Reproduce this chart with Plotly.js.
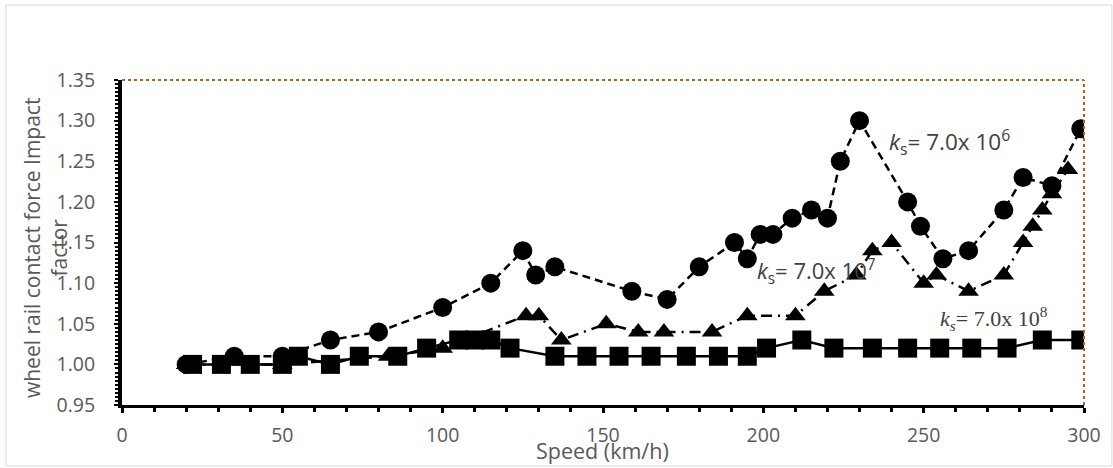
<!DOCTYPE html>
<html>
<head>
<meta charset="utf-8">
<script src="https://cdn.plot.ly/plotly-3.0.1.min.js"></script>
<style>
html,body{margin:0;padding:0;background:#fff;}
#chart{width:1113px;height:468px;}
</style>
</head>
<body>
<div id="chart"></div>
<script>
// ks = 7.0x10^6 (circles, dashed)
const speed6 = [20, 35, 50, 65, 80, 100, 115, 125, 129, 135, 159, 170, 180, 191, 195, 199, 203, 209, 215, 220, 224, 230, 245, 249, 256, 264, 275, 281, 290, 299];
const impact6 = [1.00, 1.01, 1.01, 1.03, 1.04, 1.07, 1.10, 1.14, 1.11, 1.12, 1.09, 1.08, 1.12, 1.15, 1.13, 1.16, 1.16, 1.18, 1.19, 1.18, 1.25, 1.30, 1.20, 1.17, 1.13, 1.14, 1.19, 1.23, 1.22, 1.29];

// ks = 7.0x10^7 (triangles, dash-dot)
const speed7 = [20, 50, 83, 100, 126, 130, 137, 151, 161, 169, 184, 195, 210, 219, 229, 234, 240, 250, 254, 264, 275, 281, 284, 287, 290, 295];
const impact7 = [1.00, 1.00, 1.01, 1.02, 1.06, 1.06, 1.03, 1.05, 1.04, 1.04, 1.04, 1.06, 1.06, 1.09, 1.11, 1.14, 1.15, 1.10, 1.11, 1.09, 1.11, 1.15, 1.17, 1.19, 1.21, 1.24];

// ks = 7.0x10^8 (squares, solid)
const speed8 = [22, 31, 40, 50, 55, 65, 74, 86, 95, 105, 110, 115, 121, 135, 145, 155, 165, 176, 186, 195, 201, 212, 222, 234, 245, 255, 265, 276, 287, 299];
const impact8 = [1.00, 1.00, 1.00, 1.00, 1.01, 1.00, 1.01, 1.01, 1.02, 1.03, 1.03, 1.03, 1.02, 1.01, 1.01, 1.01, 1.01, 1.01, 1.01, 1.01, 1.02, 1.03, 1.02, 1.02, 1.02, 1.02, 1.02, 1.02, 1.03, 1.03];

const seriesLabels = ['<i>k</i><sub>s</sub>= 7.0x 10<sup>6</sup>', '<i>k</i><sub>s</sub>= 7.0x 10<sup>7</sup>', '<i>k<sub>s</sub></i>= 7.0x 10<sup>8</sup>'];
const xTitle = 'Speed (km/h)';
const yTitle = 'wheel rail contact force Impact<br>factor';

const gray = '#595959';
const sans = 'Open Sans, Noto Sans, sans-serif';
const traces = [
  {x: speed6, y: impact6, mode: 'lines+markers', name: 'ks=7e6',
   line: {color: '#000', width: 2.5, dash: '8px,5px'},
   marker: {symbol: 'circle', size: 19, color: '#000'}},
  {x: speed7, y: impact7, mode: 'lines+markers', name: 'ks=7e7',
   line: {color: '#000', width: 2.5, dash: '11px,6px,2px,6px'},
   marker: {symbol: 'triangle-up', size: 18, color: '#000'}},
  {x: speed8, y: impact8, mode: 'lines+markers', name: 'ks=7e8',
   line: {color: '#000', width: 2.5},
   marker: {symbol: 'square', size: 19, color: '#000'}}
];

const layout = {
  width: 1113, height: 468,
  margin: {l: 122, r: 29, t: 80, b: 63},
  paper_bgcolor: '#fff', plot_bgcolor: '#fff',
  showlegend: false,
  font: {family: sans, color: gray, size: 18},
  xaxis: {
    range: [0, 300], tickvals: [0, 50, 100, 150, 200, 250, 300],
    showgrid: false, zeroline: false,
    showline: true, linecolor: '#000', linewidth: 3,
    ticks: 'outside', ticklen: 5, tickwidth: 3, tickcolor: '#000',
    minor: {dtick: 10, ticks: 'outside', ticklen: 4, tickwidth: 3, tickcolor: '#000'},
    tickfont: {size: 19.5, color: gray}, ticklabelstandoff: 6
  },
  yaxis: {
    range: [0.95, 1.35], dtick: 0.05, tickformat: '.2f',
    showgrid: false, zeroline: false,
    showline: true, linecolor: '#000', linewidth: 4,
    ticks: 'outside', ticklen: 4, tickwidth: 2, tickcolor: '#000',
    minor: {dtick: 0.005, ticks: 'outside', ticklen: 3, tickwidth: 2, tickcolor: '#000'},
    tickfont: {size: 19.5, color: gray}, ticklabelstandoff: 15
  },
  shapes: [
    {type: 'rect', xref: 'paper', yref: 'paper', x0: -0.1206, x1: 1.029, y0: -0.1877, y1: 1.2308,
     line: {color: '#d9d9d9', width: 1}, fillcolor: 'rgba(0,0,0,0)', layer: 'below'},
    {type: 'line', xref: 'paper', yref: 'paper', x0: 0, x1: 1, y0: 1, y1: 1,
     line: {color: '#C55A11', width: 2, dash: 'dot'}},
    {type: 'line', xref: 'paper', yref: 'paper', x0: 1, x1: 1, y0: 0, y1: 1,
     line: {color: '#C55A11', width: 2, dash: 'dot'}}
  ],
  annotations: [
    {text: xTitle, xref: 'paper', yref: 'paper', x: 0.499, y: -0.14, showarrow: false,
     xanchor: 'center', yanchor: 'middle', font: {size: 21.5, color: gray}},
    {text: yTitle, xref: 'paper', yref: 'paper', x: -0.08, y: 0.483, showarrow: false,
     textangle: -90, xanchor: 'center', yanchor: 'middle', font: {size: 21, color: gray}},
    {text: seriesLabels[0], x: 258, y: 1.274, showarrow: false, xanchor: 'center', yanchor: 'middle',
     font: {size: 22.5, color: '#404040'}},
    {text: seriesLabels[1], x: 216.5, y: 1.114, showarrow: false, xanchor: 'center', yanchor: 'middle',
     font: {size: 22, color: '#404040'}},
    {text: seriesLabels[2], x: 272, y: 1.057, showarrow: false, xanchor: 'center', yanchor: 'middle',
     font: {size: 22, color: '#404040', family: 'Liberation Serif, DejaVu Serif, serif'}}
  ]
};

Plotly.newPlot('chart', traces, layout, {displayModeBar: false, staticPlot: true});
</script>
</body>
</html>
